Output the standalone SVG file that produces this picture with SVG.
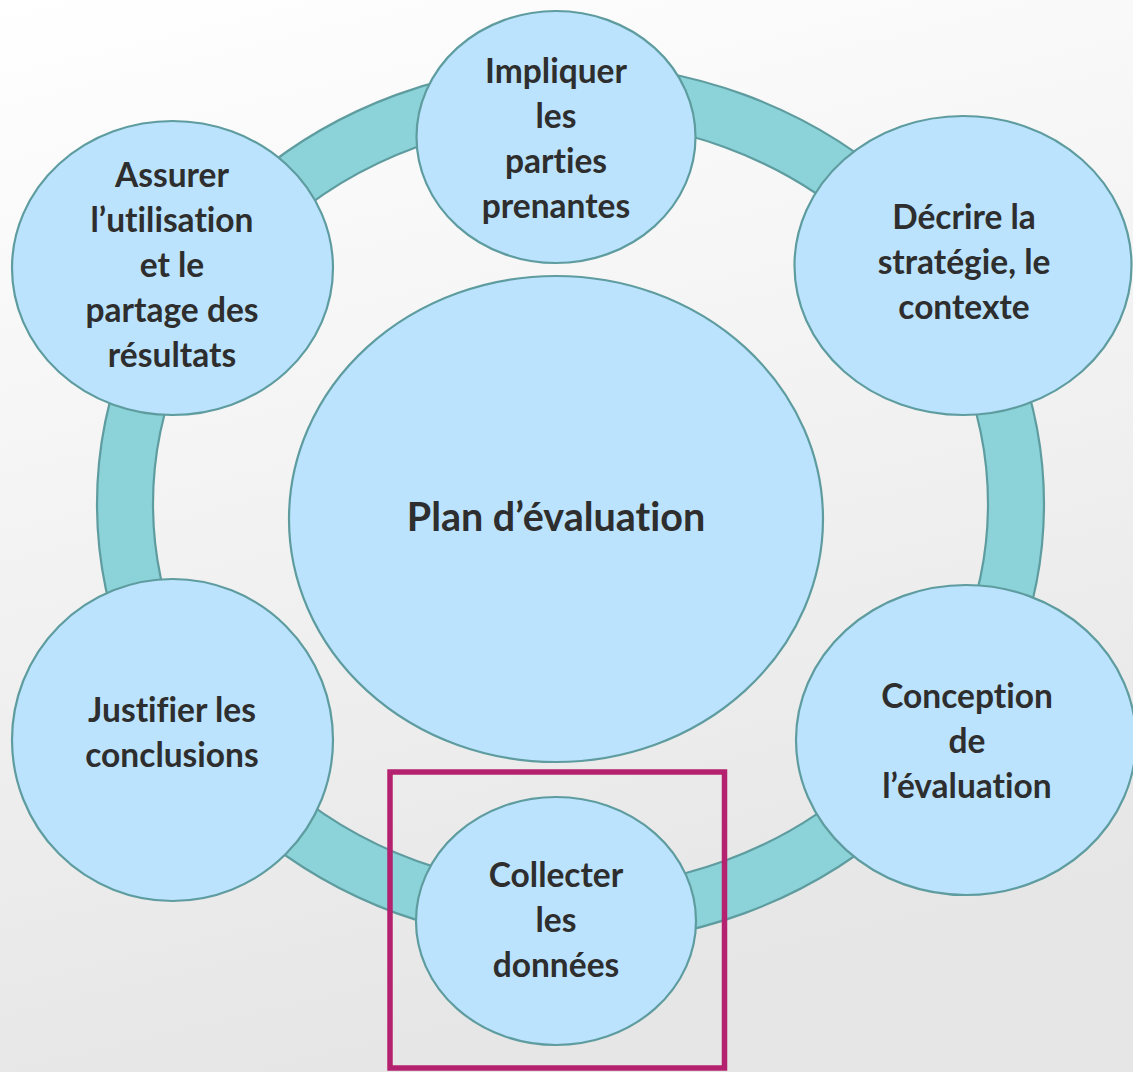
<svg xmlns="http://www.w3.org/2000/svg" width="1133" height="1072" viewBox="0 0 1133 1072">
<defs>
<linearGradient id="bg" x1="0" y1="0" x2="0.25" y2="1">
<stop offset="0" stop-color="#FFFFFF"/>
<stop offset="1" stop-color="#E6E6E6"/>
</linearGradient>
</defs>
<style>
.node{fill:#BBE3FD;stroke:#5E9C9F;stroke-width:2.2}
.ring{fill:#8BD3D8;stroke:#5E9C9F;stroke-width:2.2;fill-rule:evenodd}
.t{font-family:Lato,"Open Sans","Liberation Sans",sans-serif;font-weight:bold;font-size:33.5px;fill:#2E2E2E;text-anchor:middle;font-variant-ligatures:none;font-feature-settings:"liga" 0}
.big{font-size:39.5px}
.hl{fill:none;stroke:#B4226F;stroke-width:5.5}
</style>
<rect x="0" y="0" width="1133" height="1072" fill="url(#bg)"/>
<g id="connectors">
<path class="ring" d="M97,504 A473.5,440 0 1,1 1044,504 A473.5,440 0 1,1 97,504 Z M153,504 A417.5,384 0 1,0 988,504 A417.5,384 0 1,0 153,504 Z"/>
</g>
<g id="node-plan">
<ellipse class="node" cx="556" cy="519" rx="267" ry="243"/>
<text class="t big" x="556" y="531">Plan d’évaluation</text>
</g>
<g id="node-impliquer">
<ellipse class="node" cx="556" cy="137" rx="139.5" ry="126"/>
<text class="t" x="556" y="83">Impliquer</text>
<text class="t" x="556" y="128">les</text>
<text class="t" x="556" y="173">parties</text>
<text class="t" x="556" y="218">prenantes</text>
</g>
<g id="node-decrire">
<ellipse class="node" cx="963" cy="265.5" rx="168.5" ry="149.5"/>
<text class="t" x="964" y="229">Décrire la</text>
<text class="t" x="964" y="274">stratégie, le</text>
<text class="t" x="964" y="319">contexte</text>
</g>
<g id="node-conception">
<ellipse class="node" cx="966" cy="740" rx="170" ry="155"/>
<text class="t" x="967" y="708">Conception</text>
<text class="t" x="967" y="753">de</text>
<text class="t" x="967" y="798">l’évaluation</text>
</g>
<g id="node-collecter">
<ellipse class="node" cx="556" cy="921" rx="140" ry="124"/>
<text class="t" x="556" y="887">Collecter</text>
<text class="t" x="556" y="932">les</text>
<text class="t" x="556" y="977">données</text>
</g>
<g id="node-justifier">
<ellipse class="node" cx="172.5" cy="740" rx="160.5" ry="161"/>
<text class="t" x="172" y="722">Justifier les</text>
<text class="t" x="172" y="767">conclusions</text>
</g>
<g id="node-assurer">
<ellipse class="node" cx="172.5" cy="268" rx="160.5" ry="147"/>
<text class="t" x="172" y="187">Assurer</text>
<text class="t" x="172" y="232">l’utilisation</text>
<text class="t" x="172" y="277">et le</text>
<text class="t" x="172" y="322">partage des</text>
<text class="t" x="172" y="367">résultats</text>
</g>
<rect id="highlight" class="hl" x="390" y="772" width="334.5" height="296"/>
</svg>
